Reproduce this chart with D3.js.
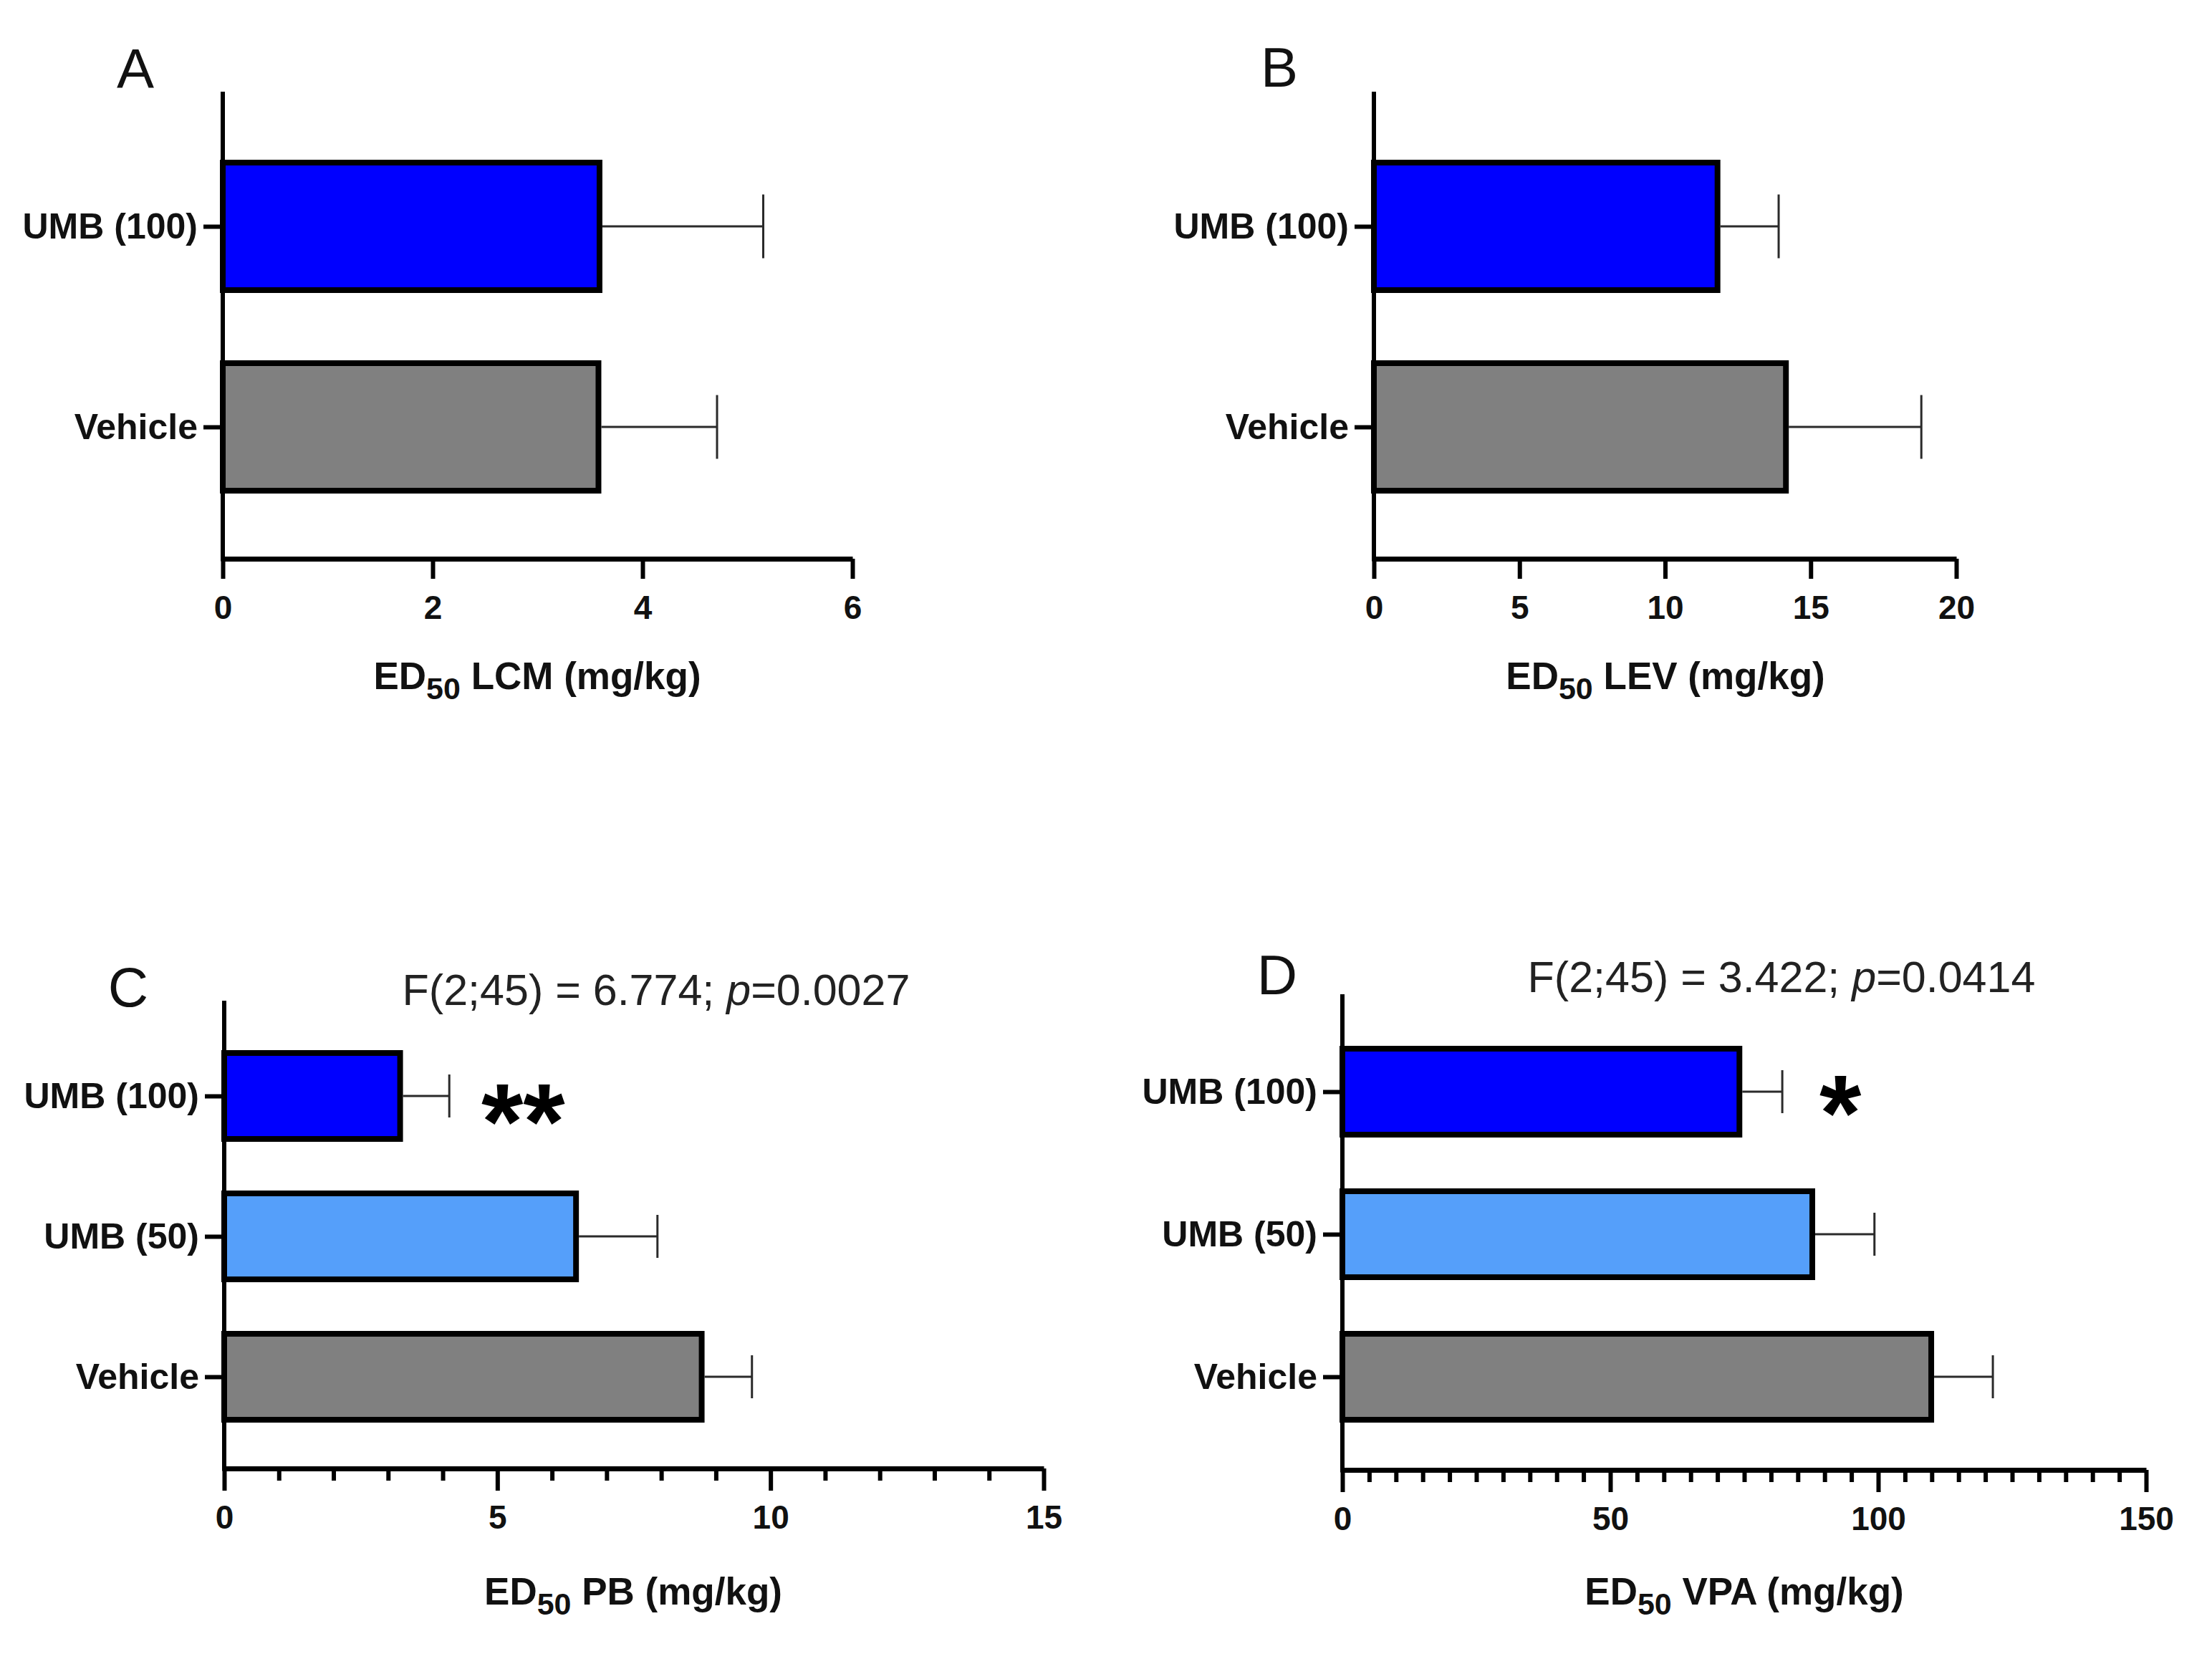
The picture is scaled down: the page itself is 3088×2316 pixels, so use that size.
<!DOCTYPE html>
<html>
<head>
<meta charset="utf-8">
<script src="https://cdn.jsdelivr.net/npm/d3@7"></script>
<style>
  body { margin: 0; background: #fff; }
  svg { display: block; font-family: "Liberation Sans", Arial, sans-serif; }
</style>
</head>
<body>
<div id="chart"></div>
<script>
// ---- data ----
const groupsTwo = ["UMB (100)", "Vehicle"];
const groupsThree = ["UMB (100)", "UMB (50)", "Vehicle"];

const lcmMean = [3.59, 3.58];
const lcmSem = [1.56, 1.13];

const levMean = [11.8, 14.15];
const levSem = [2.1, 4.65];

const pbMean = [3.22, 6.44, 8.74];
const pbSem = [0.9, 1.49, 0.92];

const vpaMean = [74.1, 87.7, 109.9];
const vpaSem = [8.0, 11.6, 11.5];

const lcmTicks = [0, 2, 4, 6];
const levTicks = [0, 5, 10, 15, 20];
const pbTicks = [0, 5, 10, 15];
const vpaTicks = [0, 50, 100, 150];

const groupColors = { "UMB (100)": "#0000ff", "UMB (50)": "#559ffa", "Vehicle": "#808080" };

// ---- layout ----
const W = 3088, H = 2316;
const svg = d3.select("#chart").append("svg")
    .attr("width", W)
    .attr("height", H)
    .attr("viewBox", `0 0 ${W} ${H}`);

const panels = [
    { letter: "A", letterPos: [189, 123], groups: groupsTwo, mean: lcmMean, sem: lcmSem,
      ticks: lcmTicks, minorStep: null, drug: "LCM",
      x0: 311, x1: 1190, yTop: 128, yAxis: 780, yRange: [316, 596], barH: 178,
      labelX: 750, labelY: 962 },
    { letter: "B", letterPos: [1786, 121], groups: groupsTwo, mean: levMean, sem: levSem,
      ticks: levTicks, minorStep: null, drug: "LEV",
      x0: 1918, x1: 2731, yTop: 128, yAxis: 780, yRange: [316, 596], barH: 178,
      labelX: 2325, labelY: 962 },
    { letter: "C", letterPos: [179, 1405], groups: groupsThree, mean: pbMean, sem: pbSem,
      ticks: pbTicks, minorStep: 1, drug: "PB",
      x0: 313, x1: 1457, yTop: 1397, yAxis: 2050, yRange: [1530, 1922], barH: 120,
      labelX: 884, labelY: 2240,
      stats: ["F(2;45) = 6.774; ", "0.0027"], statsPos: [916, 1403],
      star: "**", starPos: [672, 1618] },
    { letter: "D", letterPos: [1783, 1388], groups: groupsThree, mean: vpaMean, sem: vpaSem,
      ticks: vpaTicks, minorStep: 5, drug: "VPA",
      x0: 1874, x1: 2996, yTop: 1388, yAxis: 2052, yRange: [1524, 1922], barH: 120,
      labelX: 2435, labelY: 2240,
      stats: ["F(2;45) = 3.422; ", "0.0414"], statsPos: [2487, 1385],
      star: "*", starPos: [2540, 1606] }
];

function drawPanel(p) {
    const g = svg.append("g").attr("class", "panel");

    const x = d3.scaleLinear()
        .domain([p.ticks[0], p.ticks[p.ticks.length - 1]])
        .range([p.x0, p.x1]);
    const y = d3.scalePoint()
        .domain(p.groups)
        .range(p.yRange);

    const rows = p.groups.map((name, i) => ({ name, mean: p.mean[i], sem: p.sem[i] }));

    // bars
    g.selectAll("rect.bar")
        .data(rows)
        .join("rect")
        .attr("class", "bar")
        .attr("x", x(0))
        .attr("y", d => y(d.name) - p.barH / 2)
        .attr("width", d => x(d.mean) - x(0))
        .attr("height", p.barH)
        .attr("fill", d => groupColors[d.name])
        .attr("stroke", "#000")
        .attr("stroke-width", 8);

    // error bars (mean + SEM)
    const err = g.selectAll("g.err")
        .data(rows)
        .join("g")
        .attr("class", "err")
        .attr("stroke", "#2a2a2a")
        .attr("stroke-width", 3);
    err.append("line")
        .attr("x1", d => x(d.mean) + 4)
        .attr("x2", d => x(d.mean + d.sem))
        .attr("y1", d => y(d.name))
        .attr("y2", d => y(d.name));
    err.append("line")
        .attr("x1", d => x(d.mean + d.sem))
        .attr("x2", d => x(d.mean + d.sem))
        .attr("y1", d => y(d.name) - p.barH / 4)
        .attr("y2", d => y(d.name) + p.barH / 4);

    // x axis
    const majorSize = p.minorStep ? 31 : 28;
    if (p.minorStep) {
        const minors = d3.range(p.ticks[0], p.ticks[p.ticks.length - 1] + 1e-9, p.minorStep)
            .filter(v => !p.ticks.includes(v));
        g.append("g")
            .attr("transform", `translate(0,${p.yAxis})`)
            .call(d3.axisBottom(x).tickValues(minors).tickSize(17).tickSizeOuter(0).tickFormat(""))
            .call(a => a.select(".domain").remove())
            .call(a => a.selectAll(".tick line").attr("stroke", "#000").attr("stroke-width", 6));
    }
    const xAxis = g.append("g")
        .attr("transform", `translate(0,${p.yAxis})`)
        .call(d3.axisBottom(x)
            .tickValues(p.ticks)
            .tickFormat(d3.format("d"))
            .tickSize(majorSize)
            .tickSizeOuter(0)
            .tickPadding(84 - majorSize - 33));
    xAxis.select(".domain").attr("stroke", "#000").attr("stroke-width", 7);
    xAxis.selectAll(".tick line").attr("stroke", "#000").attr("stroke-width", 6);
    xAxis.selectAll(".tick text")
        .attr("fill", "#111")
        .style("font-size", "46px")
        .style("font-weight", "bold")
        .style("font-family", "'Liberation Sans', Arial, sans-serif");

    // y axis line + category ticks
    g.append("line")
        .attr("x1", p.x0).attr("x2", p.x0)
        .attr("y1", p.yTop).attr("y2", p.yAxis + 3.5)
        .attr("stroke", "#000")
        .attr("stroke-width", 6);
    const yAxis = g.append("g")
        .attr("transform", `translate(${p.x0},0)`)
        .call(d3.axisLeft(y).tickSize(27).tickPadding(8));
    yAxis.select(".domain").remove();
    yAxis.selectAll(".tick line").attr("stroke", "#000").attr("stroke-width", 6);
    yAxis.selectAll(".tick text")
        .attr("fill", "#111")
        .style("font-size", "50px")
        .style("font-weight", "bold")
        .style("font-family", "'Liberation Sans', Arial, sans-serif");

    // axis title with subscript
    const title = g.append("text")
        .attr("x", p.labelX)
        .attr("y", p.labelY)
        .attr("text-anchor", "middle")
        .attr("fill", "#111")
        .style("font-size", "53px")
        .style("font-weight", "bold");
    title.append("tspan").text("ED");
    title.append("tspan").attr("dy", 14).style("font-size", "43px").text("50");
    title.append("tspan").attr("dy", -14).text(` ${p.drug} (mg/kg)`);

    // panel letter
    g.append("text")
        .attr("x", p.letterPos[0])
        .attr("y", p.letterPos[1])
        .attr("text-anchor", "middle")
        .attr("fill", "#111")
        .style("font-size", "78px")
        .text(p.letter);

    if (p.stats) {
        const st = g.append("text")
            .attr("x", p.statsPos[0])
            .attr("y", p.statsPos[1])
            .attr("text-anchor", "middle")
            .attr("fill", "#222")
            .style("font-size", "61px");
        st.append("tspan").text(p.stats[0]);
        st.append("tspan").style("font-style", "italic").text("p");
        st.append("tspan").text("=" + p.stats[1]);

        g.append("text")
            .attr("x", p.starPos[0])
            .attr("y", p.starPos[1])
            .attr("fill", "#000")
            .style("font-size", "150px")
            .style("font-weight", "bold")
            .text(p.star);
    }
}

panels.forEach(drawPanel);
</script>
</body>
</html>
